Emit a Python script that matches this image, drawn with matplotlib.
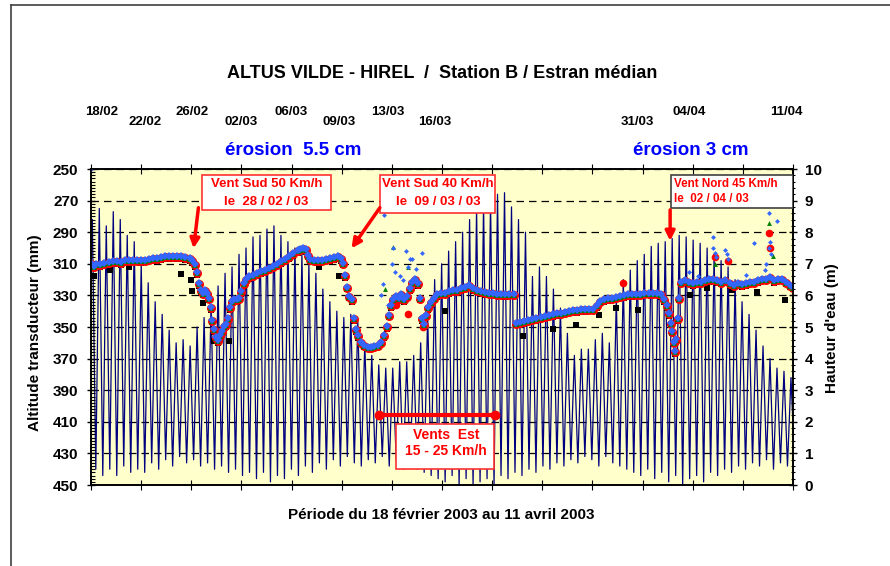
import matplotlib
matplotlib.use('Agg')
import matplotlib.pyplot as plt
import numpy as np
from matplotlib.patches import Rectangle
from matplotlib.lines import Line2D
from matplotlib.ticker import MultipleLocator
from matplotlib.transforms import blended_transform_factory, offset_copy

plt.rcParams['font.family'] = ['Liberation Sans', 'DejaVu Sans']
plt.rcParams['font.weight'] = 'bold'

# x axis = days since 18/02/2003 (0 .. 52 = 11/04)
# high waters (m), one per tide
tide_high = [8.4, 8.75, 8.2, 8.65, 8.4, 7.9, 7.7, 7.0, 6.4, 5.8,
             5.4, 4.9, 4.5, 4.6, 4.4, 5.0, 5.3, 5.7, 6.3, 6.7,
             6.9, 7.3, 7.5, 7.85, 7.9, 8.1, 8.2, 7.9, 7.7, 7.5,
             7.3, 7.0, 6.7, 6.2, 5.8, 5.5, 5.3, 5.4, 5.2, 4.5,
             4.1, 3.8, 3.7, 3.7, 3.9, 3.9, 4.1, 4.5, 5.4, 6.5,
             7.0, 7.4, 7.7, 8.0, 8.4, 8.75, 8.9, 9.0, 9.2, 9.25,
             8.8, 8.4, 8.0, 6.6, 6.9, 6.6, 6.2, 5.6, 4.8, 4.1,
             4.3, 4.3, 4.6, 4.8, 4.5, 5.9, 6.5, 6.8, 7.1, 7.3,
             7.55, 7.65, 7.7, 7.8, 7.9, 7.85, 7.75, 7.65, 7.5, 7.3,
             7.1, 6.9, 6.5, 5.8, 5.4, 4.9, 4.4, 4.0, 3.7, 3.6, 3.4]
# low waters (m), the one following each high water
tide_low = [0.5, 0.3, 0.5, 0.3, 0.6, 0.4, 0.5, 0.4, 0.7, 0.5,
            0.8, 0.6, 0.9, 0.7, 0.8, 0.6, 0.7, 0.5, 0.6, 0.4,
            0.5, 0.3, 0.4, 0.2, 0.4, 0.1, 0.3, 0.2, 0.5, 0.3,
            0.6, 0.4, 0.7, 0.5, 0.8, 0.6, 0.9, 0.7, 0.6, 0.8,
            0.7, 0.9, 0.6, 0.8, 0.5, 0.7, 0.5, 0.4, 0.3, 0.2,
            0.1, 0.3, 0.0, 0.2, 0.0, 0.1, 0.2, 0.0, 0.3, 0.2,
            0.4, 0.3, 0.5, 0.4, 0.6, 0.5, 0.7, 0.6, 0.8, 0.7,
            0.9, 0.8, 0.6, 0.9, 0.7, 0.6, 0.5, 0.4, 0.3, 0.5,
            0.2, 0.4, 0.1, 0.3, 0.0, 0.2, 0.3, 0.1, 0.4, 0.3,
            0.5, 0.4, 0.6, 0.5, 0.7, 0.6, 0.8, 0.5, 0.7, 0.6, 0.8]
first_high_day = 0.1
tide_period_days = 0.5175

# altitude of the transducer (mm), main band
band_day = [0.0, 0.2, 0.4, 0.7, 1.0, 1.3, 1.6, 1.9, 2.2, 2.5, 2.8, 3.1, 3.4, 3.7, 4.0,
            4.3, 4.6, 4.9, 5.2, 5.5, 5.8, 6.1, 6.4, 6.7, 7.0, 7.3, 7.5, 7.7,
            7.85, 8.0, 8.15, 8.3, 8.45, 8.6, 8.75, 8.9, 9.0, 9.1, 9.25, 9.4, 9.55, 9.7,
            9.85, 10.0, 10.15, 10.3, 10.45, 10.6, 10.8, 11.0, 11.15, 11.3, 11.45, 11.7,
            12.0, 12.3, 12.6, 12.9, 13.2, 13.5, 13.8, 14.1, 14.4, 14.7, 15.0, 15.3, 15.5,
            15.7, 15.9, 16.05, 16.2, 16.5, 16.8, 17.1, 17.4, 17.7, 18.0, 18.3, 18.5, 18.7,
            18.85, 19.0, 19.15, 19.3, 19.45, 19.6, 19.8, 20.0, 20.25, 20.5, 20.75, 21.0,
            21.25, 21.5, 21.7, 21.9, 22.05, 22.2, 22.4, 22.6, 22.8, 23.0, 23.2, 23.4, 23.6,
            23.8, 24.0, 24.2, 24.4, 24.55, 24.7, 24.85, 25.0, 25.2, 25.4, 25.6, 25.9, 26.2,
            26.5, 26.8, 27.1, 27.4, 27.7, 28.0, 28.3, 28.6, 28.9, 29.2, 29.5, 29.8, 30.1,
            30.4, 30.7, 31.0, 31.3,
            31.5, 31.8, 32.1, 32.4, 32.7, 33.0, 33.3, 33.6, 33.9, 34.2, 34.5, 34.8, 35.1,
            35.4, 35.7, 36.0, 36.3, 36.6, 36.9, 37.2, 37.5, 37.7, 38.0, 38.3, 38.6, 38.9,
            39.2, 39.5, 39.8, 40.1, 40.4, 40.7, 41.0, 41.3, 41.6, 41.9, 42.2, 42.45, 42.65,
            42.8, 42.95, 43.05, 43.15, 43.25, 43.35, 43.45, 43.55,
            43.7, 44.0, 44.3, 44.6, 44.9, 45.2, 45.5, 45.8, 46.1, 46.4, 46.7, 47.0, 47.3,
            47.6, 47.9, 48.2, 48.5, 48.8, 49.1, 49.4, 49.7, 50.0, 50.3, 50.6, 50.9, 51.2,
            51.5, 51.8, 52.0]
band_mm = [310, 312, 311, 311, 310, 309.5, 309, 309, 309.5, 308.5, 308, 308, 308, 308.5, 308,
           307.5, 307, 307, 306.5, 306, 306, 305.5, 306, 306, 306.5, 307, 308.5, 311,
           316, 323, 327, 329, 327, 329, 332, 338, 346, 352, 357, 359, 356, 353,
           350, 349, 345, 338, 334, 333, 333, 332, 328, 323, 320, 318.5,
           317.5, 316.5, 315.5, 314.5, 313, 312, 310.5, 309, 307.5, 306, 304, 302, 301,
           300.5, 301.5, 305, 307.5, 308, 308.5, 308, 307.5, 307, 306.5, 306, 307, 310,
           318, 325, 331, 333, 345, 352, 356, 360, 362, 363, 363, 362.5,
           362, 360, 356, 350, 343, 337, 333, 331, 332, 330, 333, 331, 326,
           322, 320, 323, 332, 345, 349, 343, 338, 335, 332, 330, 329, 329,
           328, 327, 327, 326, 325, 324, 326, 327, 328, 328.5, 329, 329, 329.5,
           329.5, 330, 329.5, 329.5,
           348, 347.5, 347, 346, 345.5, 345, 344, 343.5, 343, 342.5, 342, 341.5, 341,
           340.5, 340, 340, 339.5, 339.5, 339, 339, 337, 334, 333, 332.5, 332, 331.5,
           331, 330.5, 330, 330, 329.5, 329.5, 329, 329, 329, 329, 330, 333, 337,
           342, 348, 353, 360, 366, 358, 345, 332,
           322, 321, 322, 323, 322, 322, 321, 320.5, 320, 321, 322, 321, 323,
           324, 323, 323.5, 323, 322, 322, 321, 320, 320, 319, 321, 320, 320,
           322, 324, 325]

# isolated readings
blue_day = [0.0, 21.7, 22.4, 22.3, 22.5, 23.3, 23.6, 23.8, 24.5, 21.6, 21.5, 22.0, 23.1,
            46.05, 46.1, 46.2, 46.3, 47.0, 47.1, 47.2, 49.1, 50.2, 50.3, 50.25, 50.35,
            50.8, 50.0, 49.9, 44.3, 45.0, 48.5, 22.9, 23.5, 24.1]
blue_mm = [250, 279, 300, 310, 315, 302, 307, 307, 303, 323, 330, 336, 320,
           293, 300, 303, 306, 301, 304, 307, 297, 278, 296, 300, 304,
           283, 310, 314, 315, 318, 317, 318, 312, 313]
green_day = [22.4, 50.2, 23.5, 46.2, 50.5, 21.8]
green_mm = [299.6, 284, 312, 310, 305, 326]
red_day = [39.4, 50.2, 24.6, 23.5, 50.3, 46.2, 47.2, 22.6]
red_mm = [322, 290.6, 350, 342, 300, 306, 308, 336]
black_day = [0.2, 1.4, 2.8, 6.7, 7.4, 7.5, 8.3, 9.1, 10.2, 16.9, 18.4, 26.2, 32.0, 34.2,
             35.9, 37.6, 38.9, 40.5, 44.4, 45.6, 47.5, 49.3, 51.4]
black_mm = [318, 314, 312, 316.5, 320, 327, 335, 359, 359, 312, 318, 340, 356, 351,
            348.7, 342.4, 338, 339, 329.7, 325.5, 326.6, 327.6, 333]

date_labels = ['18/02', '22/02', '26/02', '02/03', '06/03', '09/03', '13/03', '16/03',
               '31/03', '04/04', '11/04']
date_pos = [0.77, 4.0, 7.46, 11.13, 14.8, 18.4, 22.0, 25.5, 40.5, 44.3, 51.5]
date_row = [0, 1, 0, 1, 0, 1, 0, 1, 1, 0, 0]

# tide curve: high, low, high, low ...
high_t = first_high_day + tide_period_days * np.arange(len(tide_high))
tide_t = np.ravel(np.column_stack([high_t, high_t + tide_period_days / 2]))
tide_h = np.ravel(np.column_stack([tide_high, tide_low]))

fig = plt.figure(figsize=(8.9, 5.66), dpi=100)
ax = fig.add_axes([0.1022, 0.1431, 0.7888, 0.5583])
ax2 = ax.twinx()
ax.set_zorder(ax2.get_zorder() + 1)
ax.patch.set_visible(False)
ax2.patch.set_visible(True)
ax2.set_facecolor('#FFFFCC')

# water height (right axis)
ax2.plot(tide_t, tide_h, color='#000080', lw=0.9)
ax2.set_ylim(0, 10)
ax2.set_yticks(range(0, 11))
ax2.yaxis.set_minor_locator(MultipleLocator(0.2))
ax2.grid(True, which='major', axis='both', color='black', ls=(0, (6, 4)), lw=0.9)
ax2.tick_params(axis='y', which='major', direction='inout', length=6, width=1,
                labelsize=11, pad=5.5)
ax2.tick_params(axis='y', which='minor', direction='inout', length=3, width=0.8)

# transducer altitude (left axis)
down = offset_copy(ax.transData, fig=fig, x=0, y=-1.5, units='dots')
up = offset_copy(ax.transData, fig=fig, x=0, y=1, units='dots')
ax.plot(band_day, band_mm, 's', color='black', ms=4, mew=0, transform=down)
ax.plot(black_day, black_mm, 's', color='black', ms=4.5, mew=0)
ax.plot(band_day, band_mm, 'o', color='#FF0000', ms=6.5, mew=0)
ax.plot(red_day, red_mm, 'o', color='#FF0000', ms=5.5, mew=0)
ax.plot(band_day, band_mm, '^', color='#008000', ms=5, mew=0)
ax.plot(green_day, green_mm, '^', color='#008000', ms=3.5, mew=0)
ax.plot(band_day, band_mm, 'D', color='#3366FF', ms=4.5, mew=0, transform=up)
ax.plot(blue_day, blue_mm, 'D', color='#3366FF', ms=2.5, mew=0)

ax.set_xlim(0, 52)
ax.set_ylim(450, 250)
ax.set_yticks(range(250, 451, 20))
ax.yaxis.set_minor_locator(MultipleLocator(2))
ax.set_xticks(np.linspace(0, 52, 15))
ax.tick_params(axis='x', which='both', direction='inout', length=7, top=True, bottom=True,
               labelbottom=False, labeltop=False)
ax2.tick_params(axis='x', which='both', labelbottom=False, labeltop=False)
ax.tick_params(axis='y', which='major', direction='inout', length=6, width=1,
               labelsize=11, pad=6)
ax.tick_params(axis='y', which='minor', direction='in', length=3, width=0.8)
for a in (ax, ax2):
    for s in a.spines.values():
        s.set_linewidth(1.2)

# date labels above the plot
tr = blended_transform_factory(ax.transData, ax.transAxes)
for lab, xp, row in zip(date_labels, date_pos, date_row):
    ax.text(xp, 1.181 if row == 0 else 1.150, lab, transform=tr, ha='center', va='center',
            fontsize=9.5, fontweight='bold')

ax.text(15.0, 1.044, 'érosion  5.5 cm', transform=tr, ha='center', va='baseline',
        fontsize=13.5, fontweight='bold', color='#0000FF')
ax.text(44.4, 1.044, 'érosion 3 cm', transform=tr, ha='center', va='baseline',
        fontsize=13.5, fontweight='bold', color='#0000FF')

# wind events
box_kw = dict(facecolor='white', lw=1.2, zorder=5)
ax.add_patch(Rectangle((8.2, 253.8), 9.56, 22.1, edgecolor='#FF3030', **box_kw))
ax.text(13.0, 259.5, 'Vent Sud 50 Km/h', ha='center', va='center', color='#FF0000',
        fontsize=9.5, fontweight='bold', zorder=6)
ax.text(13.0, 270.7, 'le  28 / 02 / 03', ha='center', va='center', color='#FF0000',
        fontsize=9.5, fontweight='bold', zorder=6)
ax.annotate('', xy=(7.6, 300.2), xytext=(7.96, 274.5), zorder=6,
            arrowprops=dict(arrowstyle='-|>', color='#FF0000', lw=2.5, mutation_scale=14,
                            shrinkA=0, shrinkB=0))

ax.add_patch(Rectangle((21.4, 253.8), 8.53, 23.9, edgecolor='#FF3030', **box_kw))
ax.text(25.7, 259.5, 'Vent Sud 40 Km/h', ha='center', va='center', color='#FF0000',
        fontsize=9.5, fontweight='bold', zorder=6)
ax.text(25.7, 270.7, 'le  09 / 03 / 03', ha='center', va='center', color='#FF0000',
        fontsize=9.5, fontweight='bold', zorder=6)
ax.annotate('', xy=(19.3, 300.2), xytext=(21.4, 274.5), zorder=6,
            arrowprops=dict(arrowstyle='-|>', color='#FF0000', lw=2.5, mutation_scale=14,
                            shrinkA=0, shrinkB=0))

ax.add_patch(Rectangle((42.94, 253.8), 9.06, 21.1, edgecolor='#404040', **box_kw))
ax.text(43.2, 259.5, 'Vent Nord 45 Km/h', ha='left', va='center', color='#FF0000',
        fontsize=8.4, fontweight='bold', zorder=6)
ax.text(43.2, 269.2, 'le  02 / 04 / 03', ha='left', va='center', color='#FF0000',
        fontsize=8.4, fontweight='bold', zorder=6)
ax.annotate('', xy=(42.9, 295.5), xytext=(42.9, 275.9), zorder=6,
            arrowprops=dict(arrowstyle='-|>', color='#FF0000', lw=2.5, mutation_scale=14,
                            shrinkA=0, shrinkB=0))

ax.plot([21.3, 29.9], [405.7, 405.7], color='#FF0000', lw=3, marker='o', ms=6, zorder=6)
ax.add_patch(Rectangle((22.6, 411.4), 7.25, 28.5, edgecolor='#FF3030', **box_kw))
ax.text(26.3, 418.4, 'Vents  Est', ha='center', va='center', color='#FF0000',
        fontsize=10, fontweight='bold', zorder=6)
ax.text(26.3, 428.5, '15 - 25 Km/h', ha='center', va='center', color='#FF0000',
        fontsize=10, fontweight='bold', zorder=6)

fig.text(0.4966, 0.871, 'ALTUS VILDE - HIREL  /  Station B / Estran médian', ha='center',
         va='center', fontsize=13, fontweight='bold')
fig.text(0.4955, 0.090, 'Période du 18 février 2003 au 11 avril 2003', ha='center',
         va='center', fontsize=11, fontweight='bold')
fig.text(0.0393, 0.4117, 'Altitude transducteur (mm)', rotation=90, ha='center',
         va='center', fontsize=11, fontweight='bold')
fig.text(0.935, 0.4196, "Hauteur d'eau (m)", rotation=90, ha='center', va='center',
         fontsize=11, fontweight='bold')

# chart frame
fig.add_artist(Line2D([11 / 890, 11 / 890], [0, 1 - 5 / 566], color='#404040', lw=1.2))
fig.add_artist(Line2D([11 / 890, 1], [1 - 5 / 566, 1 - 5 / 566], color='#404040', lw=1.2))

fig.savefig('out.png', dpi=100)
